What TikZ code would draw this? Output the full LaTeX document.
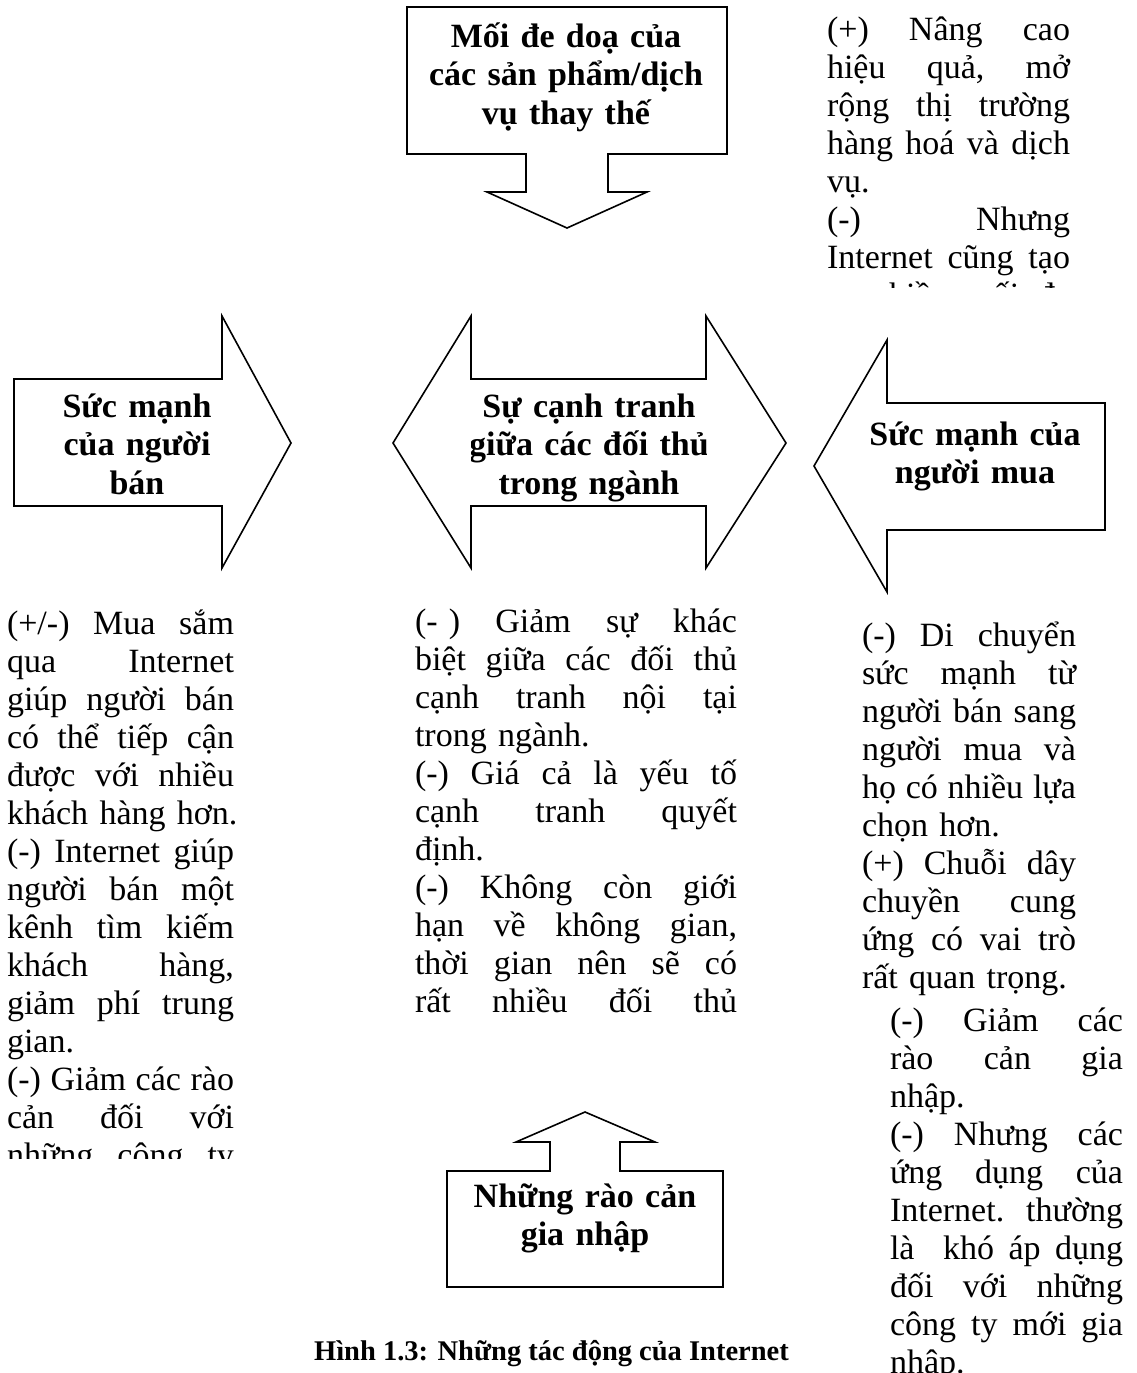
\documentclass[tikz,border=0pt]{standalone}
\usepackage{fontspec}
\setmainfont{Liberation Serif}
\ExplSyntaxOn
\seq_new:N \l_jlwords_seq
\NewDocumentCommand \jl { m }
  {
    \seq_set_split:Nnn \l_jlwords_seq { ~ } { #1 }
    \hbox_to_wd:nn { \cw } { \seq_use:Nn \l_jlwords_seq { \hfill } }
  }
\ExplSyntaxOff
\newcommand\nl[1]{\hbox{#1}}
\tikzset{
  shapeline/.style={draw=black, line width=1.6pt, line join=miter, fill=white},
  col/.style={anchor=base west, inner sep=0pt, outer sep=0pt, font=\fontsize{34}{38}\selectfont},
  lab/.style={anchor=base, inner sep=0pt, outer sep=0pt, text width=330pt, align=center, font=\fontsize{34}{38.5}\selectfont\bfseries},
}
\begin{document}
\begin{tikzpicture}[x=1pt,y=-1pt]
\useasboundingbox (0,0) rectangle (1136,1373);
\fill[white] (0,0) rectangle (1136,1373);

% top box arrow (down)
\draw[shapeline] (407,7) -- (727,7) -- (727,154) -- (608,154) -- (608,192) -- (647,192) -- (567,228) -- (487,192) -- (526,192) -- (526,154) -- (407,154) -- cycle;
\node[lab] (threat) at (566,47) {Mối đe doạ của\\các sản phẩm/dịch\\vụ thay thế};

% left arrow (right)
\draw[shapeline] (14,379) -- (222,379) -- (222,316) -- (291,443) -- (222,568) -- (222,506) -- (14,506) -- cycle;
\node[lab] (seller) at (137,417) {Sức mạnh\\của người\\bán};

% centre double arrow
\draw[shapeline] (393,443) -- (471,316) -- (471,379) -- (706,379) -- (706,316) -- (786,443) -- (706,568) -- (706,506) -- (471,506) -- (471,568) -- cycle;
\begin{scope}
\clip (471,380) rectangle (706,505);
\node[lab] (rivalry) at (589,417) {Sự cạnh tranh\\giữa các đối thủ\\trong ngành};
\end{scope}

% right arrow (left)
\draw[shapeline] (814,466) -- (887,340) -- (887,403) -- (1105,403) -- (1105,530) -- (887,530) -- (887,592) -- cycle;
\node[lab] (buyer) at (975,445) {Sức mạnh của\\người mua};

% bottom box arrow (up)
\draw[shapeline] (447,1287) -- (447,1171) -- (550,1171) -- (550,1142) -- (516,1142) -- (585,1112) -- (655,1142) -- (620,1142) -- (620,1171) -- (723,1171) -- (723,1287) -- cycle;
\node[lab] (entry) at (585,1207) {Những rào cản\\gia nhập};

% caption
\node[anchor=base, inner sep=0pt, font=\fontsize{28.5}{34}\selectfont\bfseries] (caption) at (551.5,1360) {Hình 1.3: Những tác động của Internet};

% top right text
\begin{scope}
\clip (800,0) rectangle (1136,287);
\node[col, text width=243pt] (trtext) at (827,40) {\def\cw{243pt}%
\jl{(+) Nâng cao}
\jl{hiệu quả, mở}
\jl{rộng thị trường}
\jl{hàng hoá và dịch}
\nl{vụ.}
\jl{(-) Nhưng}
\jl{Internet cũng tạo}
\jl{ra nhiều mối đe}};
\end{scope}

% left text
\begin{scope}
\clip (0,590) rectangle (300,1158);
\node[col, text width=227pt] (ltext) at (7,634) {\def\cw{227pt}%
\jl{(+/-) Mua sắm}
\jl{qua Internet}
\jl{giúp người bán}
\jl{có thể tiếp cận}
\jl{được với nhiều}
\nl{khách hàng hơn.}
\jl{(-) Internet giúp}
\jl{người bán một}
\jl{kênh tìm kiếm}
\jl{khách hàng,}
\jl{giảm phí trung}
\nl{gian.}
\jl{(-) Giảm các rào}
\jl{cản đối với}
\jl{những công ty}};
\end{scope}

% centre text
\node[col, text width=322pt] (ctext) at (415,632) {\def\cw{322pt}%
\jl{(-\ ) Giảm sự khác}
\jl{biệt giữa các đối thủ}
\jl{cạnh tranh nội tại}
\nl{trong ngành.}
\jl{(-) Giá cả là yếu tố}
\jl{cạnh tranh quyết}
\nl{định.}
\jl{(-) Không còn giới}
\jl{hạn về không gian,}
\jl{thời gian nên sẽ có}
\jl{rất nhiều đối thủ}};

% right text 1
\begin{scope}
\clip (850,590) rectangle (1136,997);
\node[col, text width=214pt] (r1text) at (862,646) {\def\cw{214pt}%
\jl{(-) Di chuyển}
\jl{sức mạnh từ}
\jl{người bán sang}
\jl{người mua và}
\jl{họ có nhiều lựa}
\nl{chọn hơn.}
\jl{(+) Chuỗi dây}
\jl{chuyền cung}
\jl{ứng có vai trò}
\nl{rất quan trọng.}};
\end{scope}

% right text 2
\begin{scope}
\clip (860,998) rectangle (1136,1373);
\node[col, text width=233pt] (r2text) at (890,1031) {\def\cw{233pt}%
\jl{(-) Giảm các}
\jl{rào cản gia}
\nl{nhập.}
\jl{(-) Nhưng các}
\jl{ứng dụng của}
\jl{Internet. thường}
\jl{là {} khó áp dụng}
\jl{đối với những}
\jl{công ty mới gia}
\nl{nhập.}};
\end{scope}
\end{tikzpicture}
\end{document}
